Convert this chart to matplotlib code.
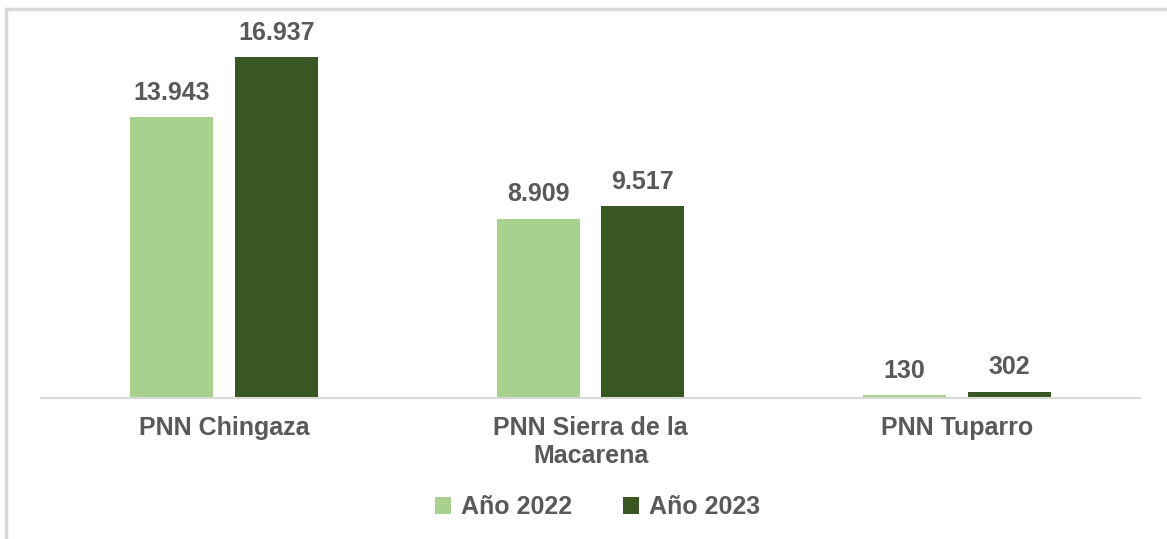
import matplotlib.pyplot as plt
import numpy as np

# Datos
parques = ['PNN Chingaza', 'PNN Sierra de la\nMacarena', 'PNN Tuparro']
anio_2022 = [13943, 8909, 130]
anio_2023 = [16937, 9517, 302]
series = ['Año 2022', 'Año 2023']

color_claro = '#A9D18E'
color_oscuro = '#385723'
color_texto = '#595959'

plt.rcParams['font.family'] = ['Liberation Sans', 'DejaVu Sans']
plt.rcParams['font.weight'] = 'bold'

fig = plt.figure(figsize=(11.67, 5.39), dpi=100)
ax = fig.add_axes([0.0351, 0.2616, 0.9418, 0.672])

x = np.arange(len(parques))
ancho = 0.227
desp = 0.143

b1 = ax.bar(x - desp, anio_2022, ancho, color=color_claro, label=series[0])
b2 = ax.bar(x + desp, anio_2023, ancho, color=color_oscuro, label=series[1])

def formato(v):
    # separador de miles con punto
    return f'{v:,}'.replace(',', '.')

for barras, valores in [(b1, anio_2022), (b2, anio_2023)]:
    for barra, v in zip(barras, valores):
        ax.annotate(formato(v), (barra.get_x() + barra.get_width() / 2, v),
                    xytext=(0, 9), textcoords='offset points',
                    ha='center', va='bottom', fontsize=18,
                    fontweight='bold', color=color_texto)

ax.set_xlim(-0.5, 2.5)
ax.set_ylim(0, 18000)
ax.set_xticks(x)
ax.set_xticklabels(parques, fontsize=18, fontweight='bold', color=color_texto,
                   linespacing=1.2)
ax.tick_params(axis='x', length=0, pad=13)
ax.set_yticks([])
for s in ['top', 'right', 'left']:
    ax.spines[s].set_visible(False)
ax.spines['bottom'].set_color('#D9D9D9')
ax.spines['bottom'].set_linewidth(1.5)

leg = fig.legend(handles=[b1, b2], labels=series, loc='center',
                 bbox_to_anchor=(0.512, 0.059), ncol=2, frameon=False,
                 fontsize=18, handlelength=0.65, handleheight=0.65,
                 handletextpad=0.4, columnspacing=2.0)
for t in leg.get_texts():
    t.set_color(color_texto)
    t.set_fontweight('bold')

# marco gris (solo izquierda y arriba, como en el recorte)
fig.add_artist(plt.Line2D([0.0055, 0.0055], [0, 0.983], transform=fig.transFigure,
                          color='#D9D9D9', linewidth=2.5))
fig.add_artist(plt.Line2D([0.0055, 1], [0.983, 0.983], transform=fig.transFigure,
                          color='#D9D9D9', linewidth=2.5))

fig.savefig('out.png', dpi=100)
